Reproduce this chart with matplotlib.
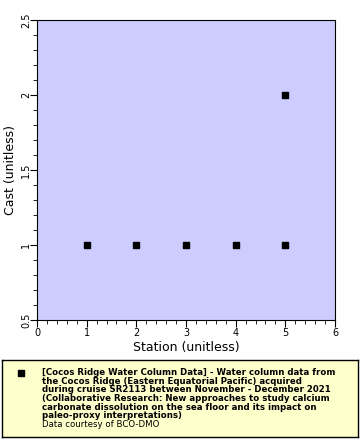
import matplotlib
matplotlib.use("Agg")
import matplotlib.pyplot as plt
from matplotlib.ticker import MultipleLocator

# data
station = [1, 2, 3, 4, 5, 5]
cast = [1, 1, 1, 1, 1, 2]
x_ticks = [0, 1, 2, 3, 4, 5, 6]
y_ticks = [0.5, 1, 1.5, 2, 2.5]
legend_title = ("[Cocos Ridge Water Column Data] - Water column data from\n"
                "the Cocos Ridge (Eastern Equatorial Pacific) acquired\n"
                "during cruise SR2113 between November - December 2021\n"
                "(Collaborative Research: New approaches to study calcium\n"
                "carbonate dissolution on the sea floor and its impact on\n"
                "paleo-proxy interpretations)")
credit = "Data courtesy of BCO-DMO"

fig = plt.figure(figsize=(3.6, 4.4), dpi=100)
ax = fig.add_axes([37 / 360, 1 - 320 / 440, 298 / 360, 300 / 440])
ax.set_facecolor("#ccccff")
ax.scatter(station, cast, marker="s", s=22, c="black", zorder=3)

ax.set_xlim(0, 6)
ax.set_ylim(0.5, 2.5)
ax.set_xticks(x_ticks)
ax.set_yticks(y_ticks)
ax.set_yticklabels([f"{v:g}" for v in y_ticks], rotation=90, va="center")
ax.xaxis.set_minor_locator(MultipleLocator(0.2))
ax.yaxis.set_minor_locator(MultipleLocator(0.1))
ax.tick_params(which="both", direction="out", labelsize=7, top=False, right=False)
ax.tick_params(axis="x", pad=1)
ax.tick_params(axis="y", pad=-1)
ax.tick_params(which="major", length=5)
ax.tick_params(which="minor", length=3)
ax.set_xlabel("Station (unitless)", fontsize=9, labelpad=2)
ax.set_ylabel("Cast (unitless)", fontsize=9)
ax.yaxis.set_label_coords(-0.068, 0.5)

# legend box at the bottom
box = fig.add_axes([1.5 / 360, 1 - 437 / 440, 356 / 360, 77 / 440])
box.set_facecolor("#ffffcc")
box.set_xticks([])
box.set_yticks([])
for s in box.spines.values():
    s.set_linewidth(1)
box.set_xlim(0, 356)
box.set_ylim(77, 0)
box.scatter([19], [13], marker="s", s=14, c="black")
box.text(41, 8, legend_title, fontsize=6.2, fontweight="bold",
         va="top", ha="left", linespacing=0.95)
box.text(41, 59.5, credit, fontsize=6.2, va="top", ha="left")

fig.savefig("out.png", dpi=100)
